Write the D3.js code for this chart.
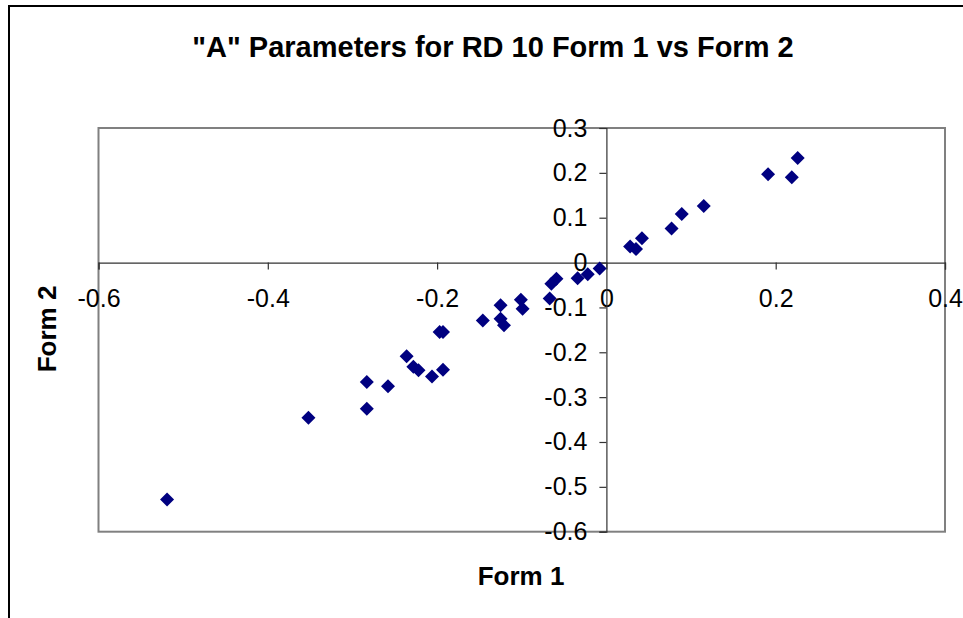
<!DOCTYPE html>
<html><head><meta charset="utf-8">
<script src="https://cdn.jsdelivr.net/npm/d3@7"></script>
<style>body{margin:0;background:#fff}svg{display:block}</style>
</head><body>
<svg id="c" width="963" height="618"></svg>
<script>
const title = '"A" Parameters for RD 10 Form 1 vs Form 2';
const xLabel = "Form 1";
const yLabel = "Form 2";
const form1 = [0.226,0.191,0.219,0.115,0.089,0.077,0.042,0.028,0.035,-0.008,-0.022,-0.034,-0.059,-0.065,-0.067,-0.101,-0.099,-0.125,-0.125,-0.121,-0.146,-0.197,-0.193,-0.236,-0.228,-0.222,-0.206,-0.193,-0.258,-0.283,-0.283,-0.352,-0.519];
const form2 = [0.233,0.197,0.190,0.126,0.108,0.076,0.054,0.036,0.030,-0.013,-0.026,-0.035,-0.036,-0.047,-0.080,-0.083,-0.103,-0.095,-0.125,-0.140,-0.129,-0.155,-0.155,-0.209,-0.232,-0.240,-0.254,-0.239,-0.276,-0.266,-0.326,-0.346,-0.528];
const xTicks = [-0.6,-0.4,-0.2,0,0.2,0.4];
const yTicks = [0.3,0.2,0.1,0,-0.1,-0.2,-0.3,-0.4,-0.5,-0.6];

const svg = d3.select("#c");
const L=98.5,R=945,T=128,B=531.7;
const x = d3.scaleLinear().domain([-0.6,0.4]).range([L,R]);
const y = d3.scaleLinear().domain([-0.6,0.3]).range([B,T]);

// outer chart border
svg.append("path").attr("d",`M9,640V6H980`).attr("fill","none").attr("stroke","#000").attr("stroke-width",2);

// plot area
svg.append("rect").attr("x",L).attr("y",T).attr("width",R-L).attr("height",B-T)
  .attr("fill","#fff").attr("stroke","#808080").attr("stroke-width",2);

const font = "Liberation Sans, Arial, sans-serif";
const fmt = d => String(d);

// x axis at y=0
const xa = svg.append("g").attr("transform",`translate(0,${y(0)})`)
  .call(d3.axisBottom(x).tickValues(xTicks).tickSize(7).tickPadding(20).tickFormat(fmt));
// y axis at x=0
const ya = svg.append("g").attr("transform",`translate(${x(0)},0)`)
  .call(d3.axisLeft(y).tickValues(yTicks).tickSize(7).tickPadding(12).tickFormat(fmt));
[xa,ya].forEach(a=>{
  a.select(".domain").attr("stroke","#333").attr("stroke-width",1.2);
  a.selectAll(".tick line").attr("stroke","#333").attr("stroke-width",1.2);
  a.selectAll("text").attr("font-family",font).attr("font-size",25).attr("fill","#000");
});

// points (diamonds)
svg.append("g").selectAll("path").data(form1.map((v,i)=>[v,form2[i]])).join("path")
  .attr("d",d3.symbol(d3.symbolSquare,98))
  .attr("transform",d=>`translate(${x(d[0])},${y(d[1])}) rotate(45)`)
  .attr("fill","#000080");

svg.append("text").attr("x",493).attr("y",57).attr("text-anchor","middle")
  .attr("font-family",font).attr("font-weight","bold").attr("font-size",29).text(title);
svg.append("text").attr("x",521).attr("y",585).attr("text-anchor","middle")
  .attr("font-family",font).attr("font-weight","bold").attr("font-size",26).text(xLabel);
svg.append("text").attr("transform","translate(56,329) rotate(-90)").attr("text-anchor","middle")
  .attr("font-family",font).attr("font-weight","bold").attr("font-size",26).text(yLabel);
</script>
</body></html>
